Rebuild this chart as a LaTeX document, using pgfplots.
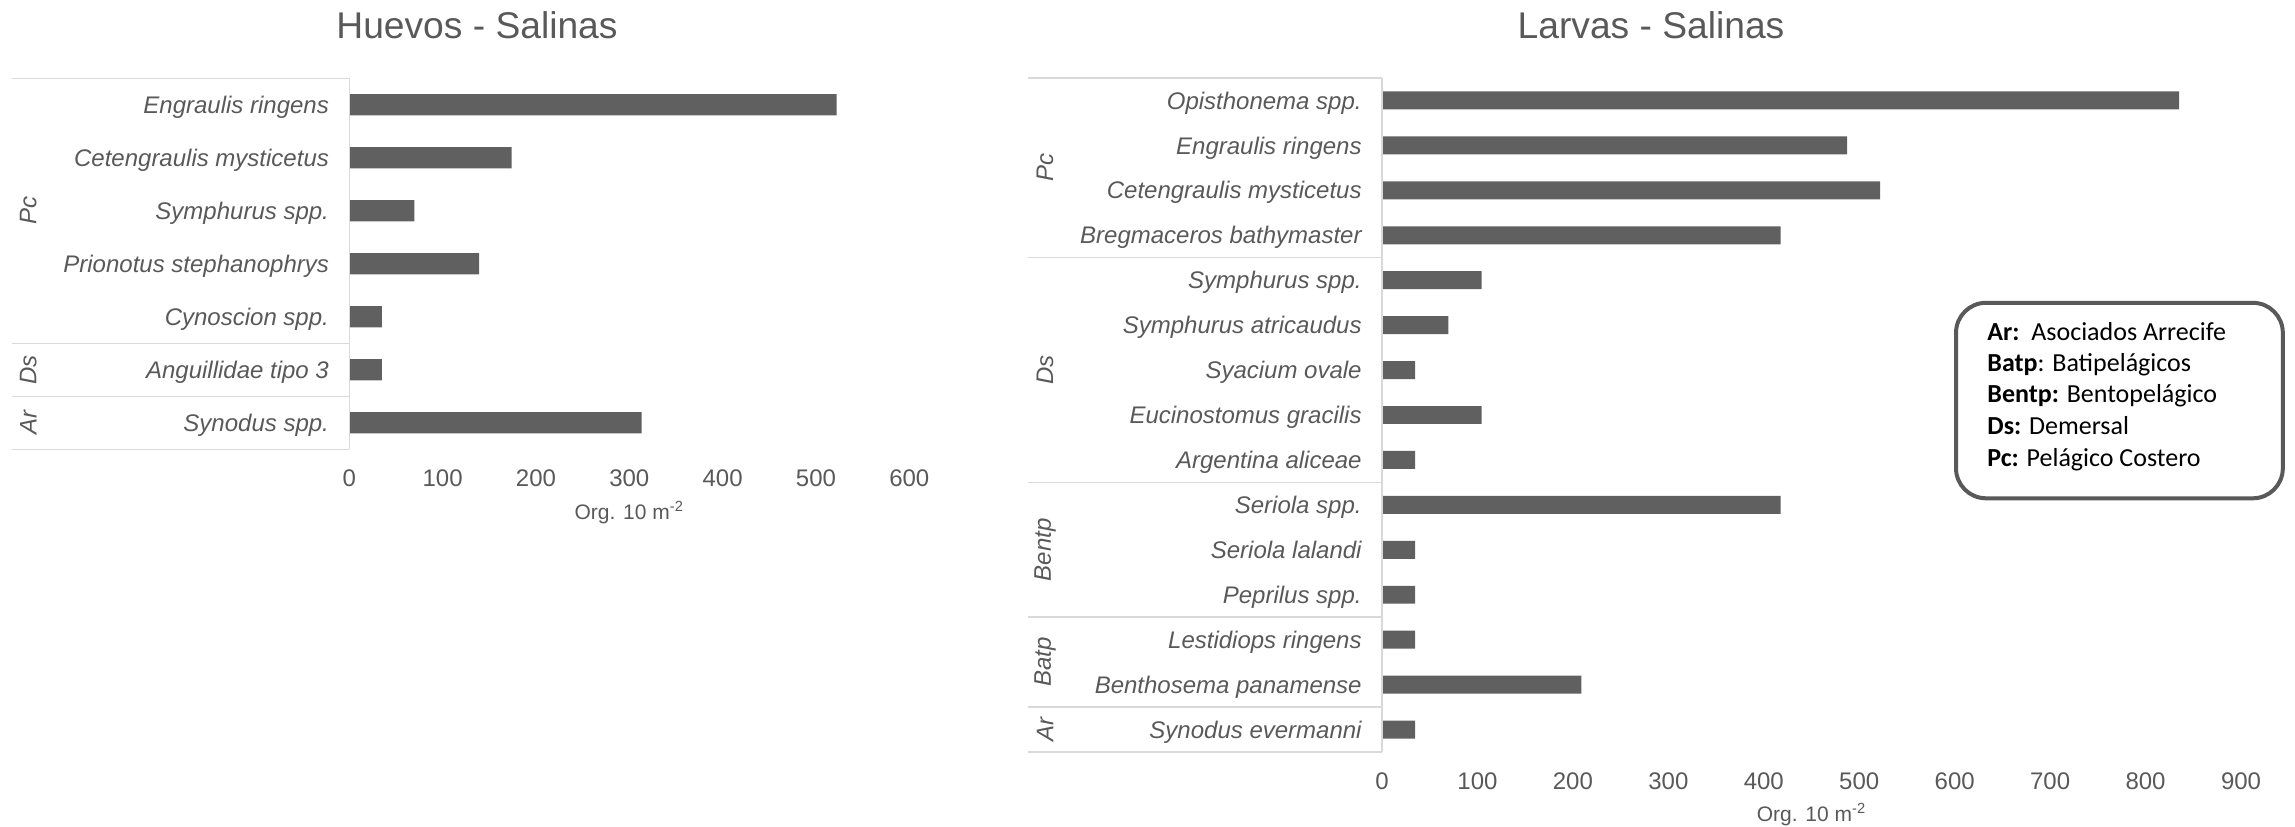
\documentclass[border=0pt]{standalone}
\usepackage{pgfplots}
\pgfplotsset{compat=1.18}
\usepackage{fontspec}
\setmainfont{Liberation Sans}
\newfontfamily\calibri{Carlito}
\definecolor{txt}{HTML}{595959}
\definecolor{barc}{HTML}{606060}
\definecolor{sepc}{HTML}{D9D9D9}
\tikzset{
  grp/.style={rotate=90, font=\fontsize{12}{14}\selectfont\itshape, text=txt},
  sepl/.style={sepc, line width=0.75pt},
}
\pgfplotsset{
  common/.style={
    scale only axis,
    xbar, bar width=0.4,
    y dir=reverse,
    axis line style={draw=none},
    major tick length=0pt,
    tick style={draw=none},
    xmin=0,
    ticklabel style={font=\fontsize{12}{14}\selectfont, text=txt},
    yticklabel style={font=\fontsize{12}{14}\selectfont\itshape, text=txt, inner sep=0pt, xshift=-10pt, text height=8.6pt, text depth=0pt},
    xticklabel style={inner sep=0pt, yshift=-10pt},
    /pgf/number format/assume math mode=true,
    x label style={at={(axis description cs:0.5,0)}, anchor=center, yshift=-31.5pt, font=\fontsize{10.5}{12}\selectfont, text=txt},
    clip=false,
  },
}
\begin{document}
\begin{tikzpicture}[x=1pt,y=1pt]
\path[use as bounding box] (0,0) rectangle (1147.5,413);
% Left chart
\begin{axis}[common, at={(174.65pt,188.35pt)}, anchor=south west,
  width=280pt, height=185.5pt, xmax=600, xtick={0,100,...,600},
  ymin=0.5, ymax=7.5, ytick={1,...,7},
  yticklabels={Engraulis ringens, Cetengraulis mysticetus, Symphurus spp., Prionotus stephanophrys, Cynoscion spp., Anguillidae tipo 3, Synodus spp.},
  xlabel={Org. 10 m\textsuperscript{-2}}]
\addplot[fill=barc, draw=none] coordinates {(522,1) (174,2) (69.6,3) (139.2,4) (34.8,5) (34.8,6) (313.2,7)};
\draw[sepl] (axis cs:0,0.5) -- (axis cs:0,7.5);
\draw[sepl] (axis cs:0,0.5) -- ++(-168.65pt,0pt);
\draw[sepl] (axis cs:0,5.5) -- ++(-168.65pt,0pt);
\draw[sepl] (axis cs:0,6.5) -- ++(-168.65pt,0pt);
\draw[sepl] (axis cs:0,7.5) -- ++(-168.65pt,0pt);
\path (axis cs:0,3) ++(-160.5pt,0pt) node[grp] {Pc};
\path (axis cs:0,6) ++(-160.5pt,0pt) node[grp] {Ds};
\path (axis cs:0,7) ++(-160.5pt,0pt) node[grp] {Ar};
\end{axis}
% Right chart
\begin{axis}[common, at={(691pt,37pt)}, anchor=south west,
  width=429.5pt, height=337pt, xmax=900, xtick={0,100,...,900},
  ymin=0.5, ymax=15.5, ytick={1,...,15},
  yticklabels={Opisthonema spp., Engraulis ringens, Cetengraulis mysticetus, Bregmaceros bathymaster, Symphurus spp., Symphurus atricaudus, Syacium ovale, Eucinostomus gracilis, Argentina aliceae, Seriola spp., Seriola lalandi, Peprilus spp., Lestidiops ringens, Benthosema panamense, Synodus evermanni},
  xlabel={Org. 10 m\textsuperscript{-2}}]
\addplot[fill=barc, draw=none] coordinates {(835.2,1) (487.2,2) (522,3) (417.6,4) (104.4,5) (69.6,6) (34.8,7) (104.4,8) (34.8,9) (417.6,10) (34.8,11) (34.8,12) (34.8,13) (208.8,14) (34.8,15)};
\draw[sepl] (axis cs:0,0.5) -- (axis cs:0,15.5);
\draw[sepl] (axis cs:0,0.5) -- ++(-177pt,0pt);
\draw[sepl] (axis cs:0,4.5) -- ++(-177pt,0pt);
\draw[sepl] (axis cs:0,9.5) -- ++(-177pt,0pt);
\draw[sepl] (axis cs:0,12.5) -- ++(-177pt,0pt);
\draw[sepl] (axis cs:0,14.5) -- ++(-177pt,0pt);
\draw[sepl] (axis cs:0,15.5) -- ++(-177pt,0pt);
\path (axis cs:0,2.5) ++(-168.5pt,0pt) node[grp] {Pc};
\path (axis cs:0,7) ++(-168.5pt,0pt) node[grp] {Ds};
\path (axis cs:0,11) ++(-168.5pt,0pt) node[grp] {Bentp};
\path (axis cs:0,13.5) ++(-168.5pt,0pt) node[grp] {Batp};
\path (axis cs:0,15) ++(-168.5pt,0pt) node[grp] {Ar};
\end{axis}
% Titles
\node[font=\fontsize{18.6}{22}\selectfont, text=txt] at (238.5,400.5) {Huevos - Salinas};
\node[font=\fontsize{18.6}{22}\selectfont, text=txt] at (825.5,400.5) {Larvas - Salinas};
% Legend box
\draw[txt, line width=2pt, rounded corners=15pt] (978,261.6) rectangle (1141.4,163.85);
\begin{scope}[every node/.style={anchor=base west, inner sep=0pt, font=\calibri\fontsize{13}{15}\selectfont, text=black}]
\node at (993.5,243) {\textbf{Ar:}\ \ Asociados Arrecife};
\node at (993.5,227.4) {\textbf{Batp}: Batipelágicos};
\node at (993.5,211.6) {\textbf{Bentp:} Bentopelágico};
\node at (993.5,195.6) {\textbf{Ds:} Demersal};
\node at (993.5,180) {\textbf{Pc:} Pelágico Costero};
\end{scope}
\end{tikzpicture}
\end{document}
